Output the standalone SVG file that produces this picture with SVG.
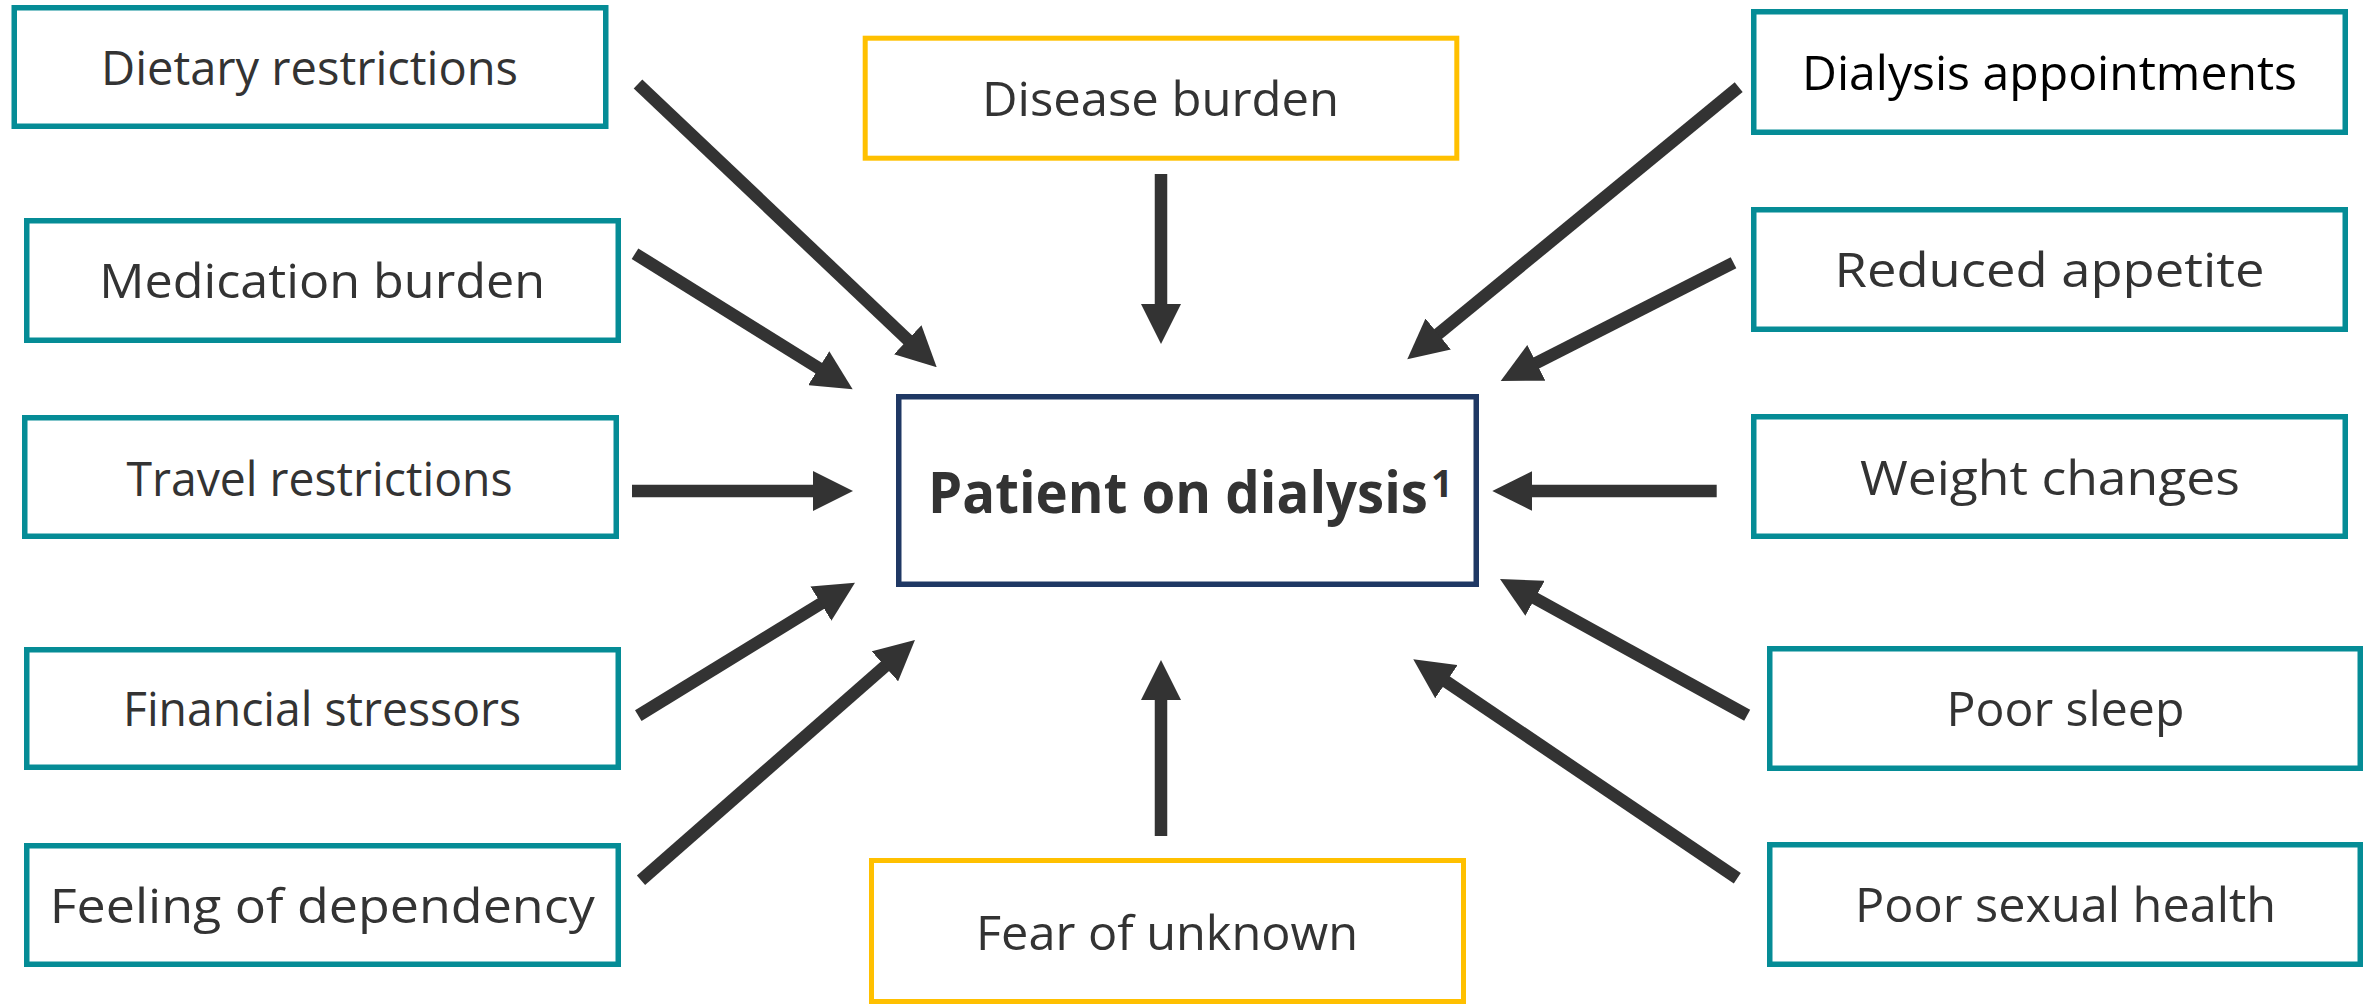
<svg xmlns="http://www.w3.org/2000/svg" width="2369" height="1005" viewBox="0 0 2369 1005">
<style>
.box{fill:#fff;stroke:#058C96;stroke-width:5.5}
.ybox{fill:#fff;stroke:#FFC000;stroke-width:5}
.cbox{fill:#fff;stroke:#1F3864;stroke-width:5.5}
.lbl{font-family:"Open Sans","Liberation Sans",sans-serif;font-size:48px;fill:#333;text-anchor:middle}
.blk{fill:#000}
.main{font-family:"Open Sans","Liberation Sans",sans-serif;font-size:57px;font-weight:bold;fill:#333}
.arr{stroke:#333;stroke-width:12.5;fill:none;marker-end:url(#ah)}
</style>
<defs>
<marker id="ah" markerUnits="userSpaceOnUse" markerWidth="40" markerHeight="40" refX="4" refY="20" orient="auto" viewBox="0 0 40 40">
<path d="M0,0 L40,20 L0,40 z" fill="#333"/>
</marker>
</defs>
<rect width="2369" height="1005" fill="#fff"/>
<g id="connectors">
<line class="arr" x1="638" y1="84" x2="910.6" y2="342.5"/>
<line class="arr" x1="635" y1="253.7" x2="822.1" y2="370.3"/>
<line class="arr" x1="632" y1="491" x2="817" y2="491"/>
<line class="arr" x1="638.3" y1="715.7" x2="824.3" y2="601.5"/>
<line class="arr" x1="641" y1="880.3" x2="887.9" y2="663.7"/>
<line class="arr" x1="1161" y1="174" x2="1161" y2="308"/>
<line class="arr" x1="1161" y1="836" x2="1161" y2="696"/>
<line class="arr" x1="1738.7" y1="87.2" x2="1435.1" y2="336.5"/>
<line class="arr" x1="1733.5" y1="262.8" x2="1532.8" y2="364.7"/>
<line class="arr" x1="1716.7" y1="491" x2="1528.3" y2="491"/>
<line class="arr" x1="1747.2" y1="715.3" x2="1531.5" y2="596.4"/>
<line class="arr" x1="1737.3" y1="878.3" x2="1443.1" y2="679.5"/>
</g>
<g id="dietary"><rect class="box" x="14.25" y="7.75" width="591.5" height="118.5"/><text class="lbl" x="309.5" y="85" textLength="417" lengthAdjust="spacingAndGlyphs">Dietary restrictions</text></g>
<g id="medication"><rect class="box" x="26.75" y="220.75" width="591.5" height="119.5"/><text class="lbl" x="322.2" y="298" textLength="446" lengthAdjust="spacingAndGlyphs">Medication burden</text></g>
<g id="travel"><rect class="box" x="24.75" y="417.75" width="591.5" height="118.5"/><text class="lbl" x="319.5" y="496" textLength="386" lengthAdjust="spacingAndGlyphs">Travel restrictions</text></g>
<g id="financial"><rect class="box" x="26.75" y="649.75" width="591.5" height="117.5"/><text class="lbl" x="322" y="726" textLength="398" lengthAdjust="spacingAndGlyphs">Financial stressors</text></g>
<g id="dependency"><rect class="box" x="26.75" y="845.75" width="591.5" height="118.5"/><text class="lbl" x="322.2" y="923" textLength="545" lengthAdjust="spacingAndGlyphs">Feeling of dependency</text></g>
<g id="disease"><rect class="ybox" x="865.2" y="38.2" width="591.6" height="120"/><text class="lbl" x="1160.5" y="116" textLength="357" lengthAdjust="spacingAndGlyphs">Disease burden</text></g>
<g id="fear"><rect class="ybox" x="871.5" y="860.5" width="592" height="141"/><text class="lbl" x="1167" y="950" textLength="382" lengthAdjust="spacingAndGlyphs">Fear of unknown</text></g>
<g id="patient"><rect class="cbox" x="898.75" y="396.75" width="577.5" height="187.5"/><text class="main" x="928" y="513"><tspan textLength="500" lengthAdjust="spacingAndGlyphs">Patient on dialysis</tspan><tspan dx="3" dy="-16" style="font-size:38px">1</tspan></text></g>
<g id="appointments"><rect class="box" x="1753.75" y="11.75" width="591.5" height="120.5"/><text class="lbl blk" x="2049.5" y="90" textLength="495" lengthAdjust="spacingAndGlyphs">Dialysis appointments</text></g>
<g id="appetite"><rect class="box" x="1753.75" y="209.75" width="591.5" height="119.5"/><text class="lbl" x="2049.5" y="287" textLength="430" lengthAdjust="spacingAndGlyphs">Reduced appetite</text></g>
<g id="weight"><rect class="box" x="1753.75" y="416.75" width="591.5" height="119.5"/><text class="lbl" x="2050" y="495" textLength="380" lengthAdjust="spacingAndGlyphs">Weight changes</text></g>
<g id="sleep"><rect class="box" x="1769.75" y="648.75" width="590.5" height="119.5"/><text class="lbl" x="2065.4" y="726" textLength="238" lengthAdjust="spacingAndGlyphs">Poor sleep</text></g>
<g id="sexual"><rect class="box" x="1769.75" y="844.75" width="590.5" height="119.5"/><text class="lbl" x="2065.5" y="922" textLength="421" lengthAdjust="spacingAndGlyphs">Poor sexual health</text></g>
</svg>
